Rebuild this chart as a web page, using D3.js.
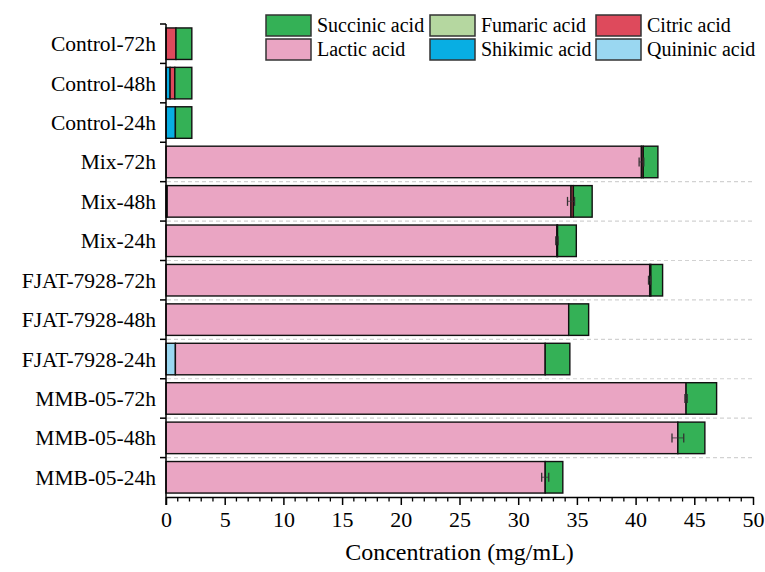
<!DOCTYPE html>
<html>
<head>
<meta charset="utf-8">
<script src="https://cdn.jsdelivr.net/npm/d3@7"></script>
<style>
  body { margin: 0; background: #fff; }
  svg text { font-family: "Liberation Serif", "Times New Roman", serif !important; }
</style>
</head>
<body>
<svg id="chart" width="765" height="572"></svg>
<script>
// categories top -> bottom
const groups = ["Control-72h", "Control-48h", "Control-24h", "Mix-72h", "Mix-48h", "Mix-24h",
  "FJAT-7928-72h", "FJAT-7928-48h", "FJAT-7928-24h", "MMB-05-72h", "MMB-05-48h", "MMB-05-24h"];

// concentration of each acid (mg/mL), same order as groups
const quininic = [0, 0, 0, 0, 0, 0, 0, 0, 0.8, 0, 0, 0];
const shikimic = [0, 0.35, 0.8, 0, 0.1, 0, 0, 0, 0, 0, 0, 0];
const lactic = [0, 0, 0, 40.5, 34.4, 33.3, 41.2, 34.3, 31.5, 44.3, 43.6, 32.3];
const fumaric = [0, 0, 0, 0, 0, 0, 0, 0, 0, 0, 0, 0];
const citric = [0.85, 0.4, 0, 0.15, 0.2, 0.05, 0.1, 0, 0, 0, 0, 0];
const succinic = [1.35, 1.45, 1.4, 1.25, 1.6, 1.6, 1.0, 1.7, 2.1, 2.6, 2.3, 1.5];
// error of the lactic acid value
const lacticErr = [0, 0, 0, 0.2, 0.3, 0.1, 0.1, 0, 0, 0.1, 0.5, 0.3];

const xTicks = [0, 5, 10, 15, 20, 25, 30, 35, 40, 45, 50];

const series = [
  {key: "quininic", name: "Quininic acid", color: "#9ad7f1", vals: quininic},
  {key: "shikimic", name: "Shikimic acid", color: "#08aee3", vals: shikimic},
  {key: "lactic", name: "Lactic acid", color: "#eaa5c3", vals: lactic},
  {key: "fumaric", name: "Fumaric acid", color: "#b5d7a0", vals: fumaric},
  {key: "citric", name: "Citric acid", color: "#de4a5c", vals: citric},
  {key: "succinic", name: "Succinic acid", color: "#34b156", vals: succinic}
];
const legendOrder = ["succinic", "fumaric", "citric", "lactic", "shikimic", "quininic"];

const table = groups.map((g, i) => {
  const row = {group: g};
  series.forEach(s => row[s.key] = s.vals[i]);
  return row;
});

const svg = d3.select("#chart");
const mLeft = 166, mRight = 753, mTop = 24, mBottom = 497;

const x = d3.scaleLinear().domain([0, 50]).range([mLeft, mRight]);
const y = d3.scaleBand().domain(groups).range([mTop, mBottom]).paddingInner(0.2).paddingOuter(0.1);

// dashed grid lines between rows
const step = y.step();
const bounds = d3.range(4, 12).map(k => mTop + k * step);
svg.append("g").selectAll("line").data(bounds).join("line")
  .attr("x1", mLeft + 1).attr("x2", mRight)
  .attr("y1", d => d).attr("y2", d => d)
  .attr("stroke", "#d2d2d2").attr("stroke-width", 1.2).attr("stroke-dasharray", "4,3");

const stack = d3.stack().keys(series.map(s => s.key));
const layers = stack(table);

svg.append("g").selectAll("g").data(layers).join("g")
  .attr("fill", (d, i) => series[i].color)
  .selectAll("rect").data(d => d.filter(p => p[1] - p[0] > 0)).join("rect")
  .attr("x", d => x(d[0]))
  .attr("width", d => x(d[1]) - x(d[0]))
  .attr("y", d => y(d.data.group))
  .attr("height", y.bandwidth())
  .attr("stroke", "#111").attr("stroke-width", 1.4);

// error bars at the end of the lactic segment
const lacLayer = layers[2];
const eb = svg.append("g").attr("stroke", "#333").attr("stroke-width", 1.3);
groups.forEach((g, i) => {
  if (!lacticErr[i]) return;
  const end = lacLayer[i][1], cy = y(g) + y.bandwidth() / 2;
  eb.append("line").attr("x1", x(end - lacticErr[i])).attr("x2", x(end + lacticErr[i]))
    .attr("y1", cy).attr("y2", cy).attr("stroke-opacity", 0.6);
  [end - lacticErr[i], end + lacticErr[i]].forEach(v => {
    eb.append("line").attr("x1", x(v)).attr("x2", x(v)).attr("y1", cy - 4.5).attr("y2", cy + 4.5);
  });
});

// y axis
const yAxis = svg.append("g");
yAxis.append("line").attr("x1", mLeft).attr("x2", mLeft).attr("y1", mTop).attr("y2", mBottom + 8)
  .attr("stroke", "#000").attr("stroke-width", 1.5);
yAxis.selectAll("line.t").data(d3.range(0, 12).map(k => mTop + k * step)).join("line")
  .attr("class", "t").attr("x1", mLeft - 6).attr("x2", mLeft).attr("y1", d => d).attr("y2", d => d)
  .attr("stroke", "#000").attr("stroke-width", 1.5);
yAxis.selectAll("text").data(groups).join("text")
  .attr("x", mLeft - 10).attr("y", d => y(d) + y.bandwidth() / 2)
  .attr("dy", "0.35em").attr("text-anchor", "end")
  .attr("font-size", 21.5).attr("fill", "#000").text(d => d);

// x axis
const xAxis = svg.append("g").attr("transform", `translate(0,${mBottom})`)
  .call(d3.axisBottom(x).tickValues(xTicks).tickSize(8).tickSizeOuter(0).tickPadding(6));
xAxis.select(".domain").attr("stroke-width", 1.5);
xAxis.selectAll(".tick line").attr("stroke-width", 1.5);
xAxis.selectAll(".tick text").attr("font-size", 22);
xAxis.append("g").selectAll("line").data(d3.range(0, 51).filter(v => v % 5))
  .join("line").attr("x1", d => x(d)).attr("x2", d => x(d)).attr("y1", 0).attr("y2", 4.5)
  .attr("stroke", "#000").attr("stroke-width", 1.3);

svg.append("text").attr("x", (mLeft + mRight) / 2).attr("y", 560)
  .attr("text-anchor", "middle").attr("font-size", 24).text("Concentration (mg/mL)");

// legend, 3 columns x 2 rows
const colX = [266, 430, 596], rowY = [15, 39];
const lg = svg.append("g").selectAll("g").data(legendOrder).join("g")
  .attr("transform", (k, i) => `translate(${colX[i % 3]},${rowY[Math.floor(i / 3)]})`);
lg.append("rect").attr("width", 45).attr("height", 21)
  .attr("fill", k => series.find(s => s.key === k).color)
  .attr("stroke", "#333").attr("stroke-width", 1.5);
lg.append("text").attr("x", 51).attr("y", 17).attr("font-size", 20)
  .text(k => series.find(s => s.key === k).name);
</script>
</body>
</html>
